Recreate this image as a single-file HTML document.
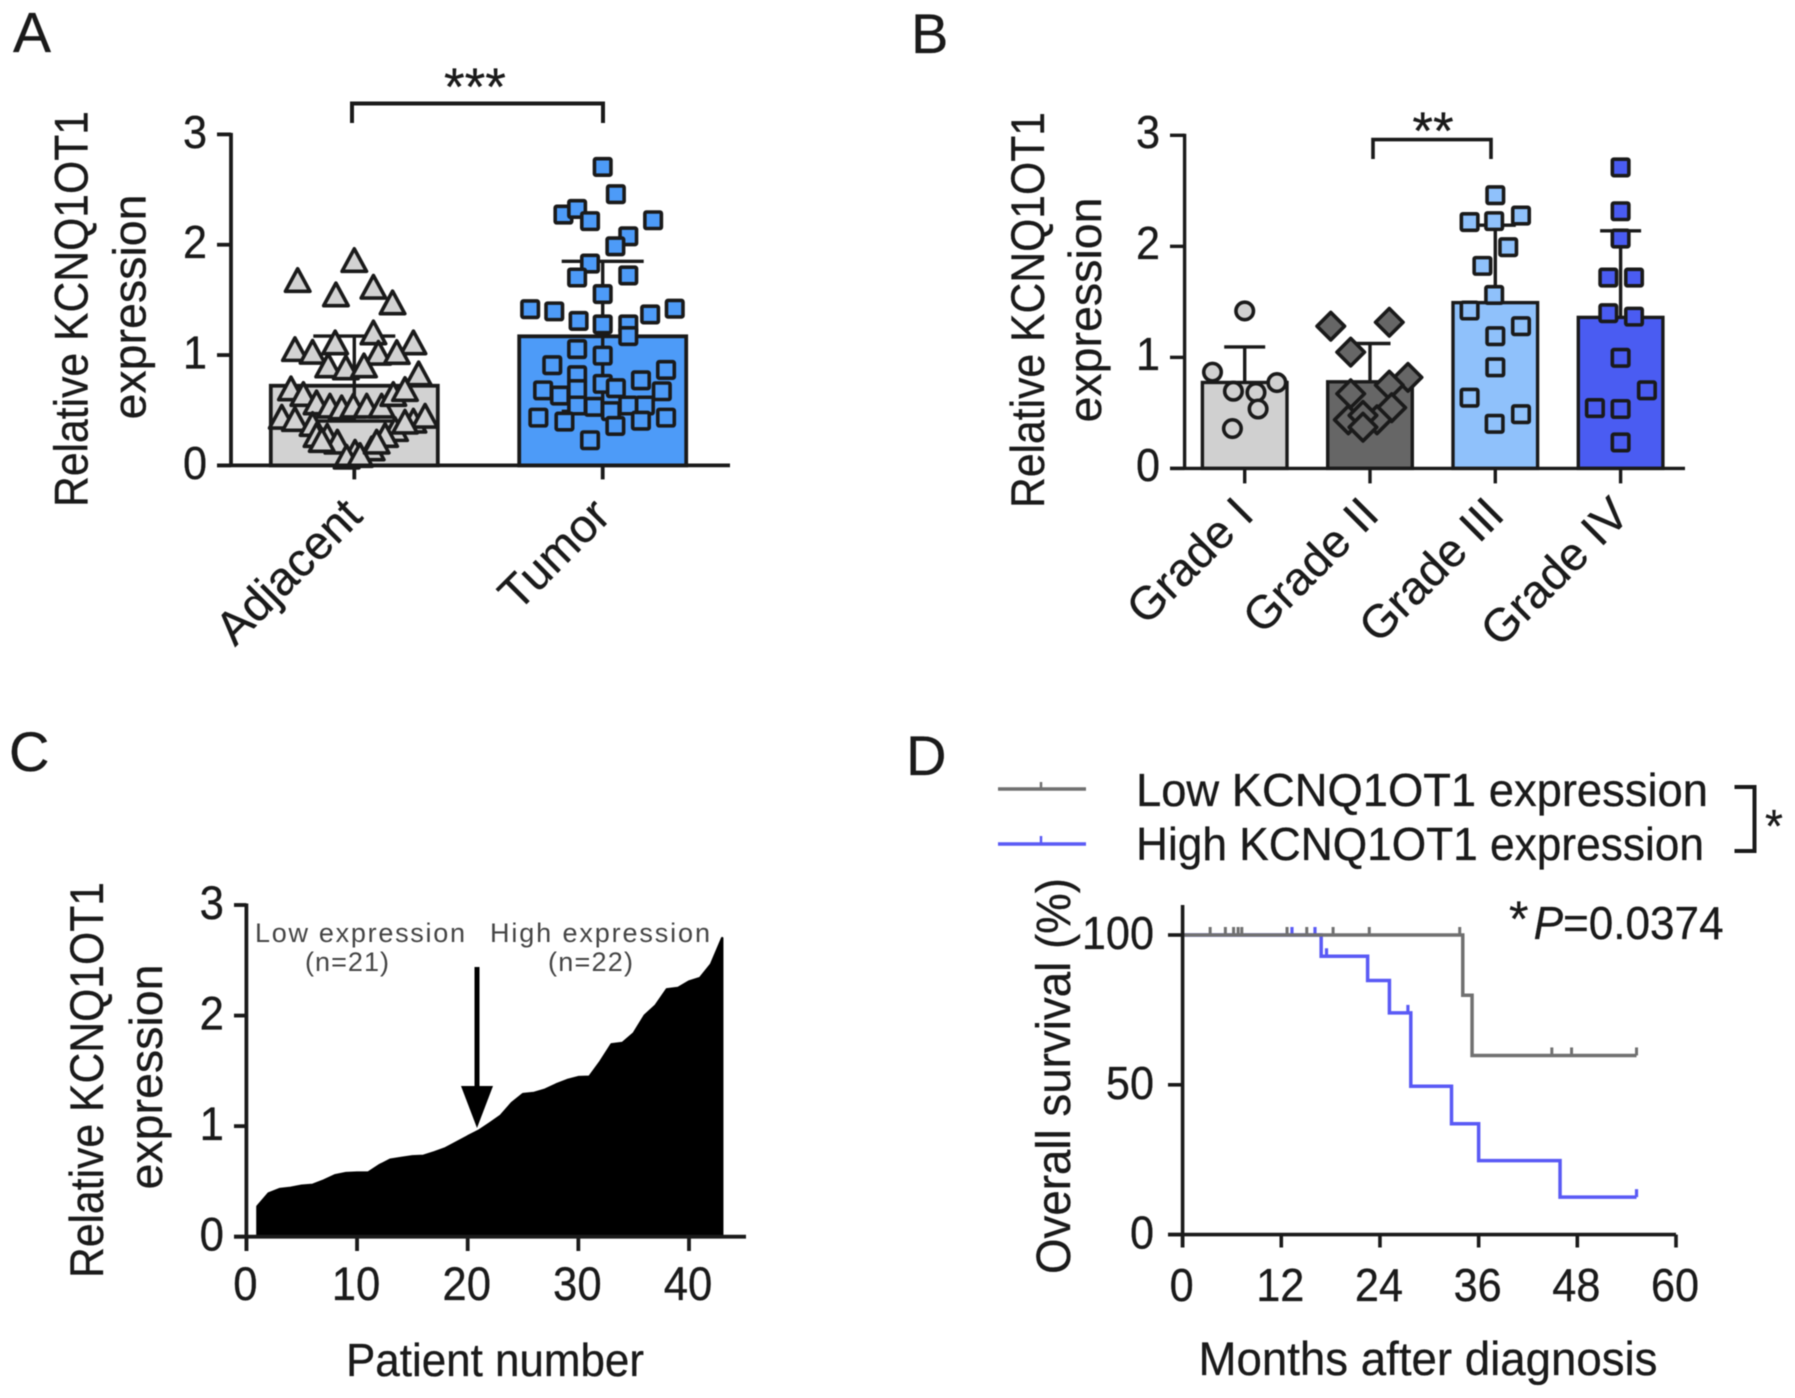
<!DOCTYPE html>
<html lang="en">
<head>
<meta charset="utf-8">
<title>KCNQ1OT1 expression figure</title>
<style>
html,body{margin:0;padding:0;background:#fff;}
svg{display:block;font-family:"Liberation Sans",Arial,sans-serif;fill:#1a1a1a;filter:blur(0.45px);}
text{fill:#1a1a1a;stroke:#1a1a1a;stroke-width:0.3px;}
</style>
</head>
<body>
<svg id="fig" xmlns="http://www.w3.org/2000/svg" width="1795" height="1398" viewBox="0 0 1795 1398">
  <rect width="1795" height="1398" fill="#ffffff"/>

  <text x="13" y="52" font-size="57">A</text>
  <text x="911" y="53" font-size="56">B</text>
  <text x="9" y="771" font-size="56">C</text>
  <text x="906" y="775" font-size="56">D</text>

  <g id="panelA">
    <text transform="translate(87.5,309) rotate(-90)" text-anchor="middle" font-size="47" textLength="396" lengthAdjust="spacingAndGlyphs">Relative KCNQ1OT1</text>
    <text transform="translate(145.5,307) rotate(-90)" text-anchor="middle" font-size="46.5">expression</text>
    <path d="M352 123V103.5H603V123" fill="none" stroke="#1a1a1a" stroke-width="4"/>
    <text x="475" y="105" text-anchor="middle" font-size="53">***</text>
  </g>

  <g id="panelB">
    <text transform="translate(1044,310) rotate(-90)" text-anchor="middle" font-size="47" textLength="396" lengthAdjust="spacingAndGlyphs">Relative KCNQ1OT1</text>
    <text transform="translate(1101,310) rotate(-90)" text-anchor="middle" font-size="46.5">expression</text>
    <path d="M1373 159V139.6H1491V159" fill="none" stroke="#1a1a1a" stroke-width="3.6"/>
    <text x="1433" y="149" text-anchor="middle" font-size="53">**</text>
  </g>

  <g id="panelC">
    <text transform="translate(103,1080) rotate(-90)" text-anchor="middle" font-size="47" textLength="396" lengthAdjust="spacingAndGlyphs">Relative KCNQ1OT1</text>
    <text transform="translate(162,1077) rotate(-90)" text-anchor="middle" font-size="46.5">expression</text>
    <text x="495" y="1376" text-anchor="middle" font-size="46" textLength="298" lengthAdjust="spacingAndGlyphs">Patient number</text>
    <text x="255" y="942" font-size="27" textLength="210" lengthAdjust="spacing" style="fill:#444;stroke:none">Low expression</text>
    <text x="305" y="971" font-size="27" textLength="84" lengthAdjust="spacing" style="fill:#444;stroke:none">(n=21)</text>
    <text x="490" y="942" font-size="27" textLength="220" lengthAdjust="spacing" style="fill:#444;stroke:none">High expression</text>
    <text x="548" y="971" font-size="27" textLength="85" lengthAdjust="spacing" style="fill:#444;stroke:none">(n=22)</text>
  </g>

  <g id="panelD">
    <text transform="translate(1070,1076) rotate(-90)" text-anchor="middle" font-size="48" textLength="396" lengthAdjust="spacingAndGlyphs">Overall survival (%)</text>
    <text x="1428" y="1375" text-anchor="middle" font-size="47.5" textLength="459" lengthAdjust="spacingAndGlyphs">Months after diagnosis</text>
    <line x1="998" y1="789" x2="1086" y2="789" stroke="#707070" stroke-width="3.5"/>
    <line x1="1041" y1="782" x2="1041" y2="789" stroke="#707070" stroke-width="2.5"/>
    <line x1="998" y1="844" x2="1086" y2="844" stroke="#5a5af5" stroke-width="3.5"/>
    <line x1="1041" y1="836" x2="1041" y2="844" stroke="#5a5af5" stroke-width="2.5"/>
    <text x="1136" y="806" font-size="46" textLength="572" lengthAdjust="spacingAndGlyphs">Low KCNQ1OT1 expression</text>
    <text x="1136" y="860" font-size="46" textLength="568" lengthAdjust="spacingAndGlyphs">High KCNQ1OT1 expression</text>
    <path d="M1734.5 787H1754.5V851H1734.5" fill="none" stroke="#1a1a1a" stroke-width="4"/>
    <text x="1765" y="842" font-size="46">*</text>
    <text x="1509" y="936" font-size="50">*</text>
    <text x="1533.6" y="939" font-size="46" textLength="190" lengthAdjust="spacingAndGlyphs"><tspan font-style="italic">P</tspan>=0.0374</text>
  </g>
</svg>
<script>
// ---------- Panel A data ----------
const catA = ['Adjacent', 'Tumor'];
const meanA = [0.722, 1.17];
const sdUpA = [0.45, 0.68];
const sdDownA = [0.32, 0.68];
const ticksA = [0, 1, 2, 3];
const adjacentValues = [1.861,1.680,1.550,1.619,1.477,1.205,1.115,1.054,1.030,1.115,1.021,1.027,0.906,0.888,0.906,0.834,0.698,0.647,0.571,0.541,0.526,0.541,0.541,0.541,0.647,0.692,0.441,0.420,0.375,0.405,0.450,0.329,0.396,0.269,0.215,0.154,0.275,0.275,0.124,0.079,0.094,0.215,0.230];
const adjacentJitter = [0,-0.228,-0.074,0.077,0.154,0.077,0.238,-0.239,-0.168,-0.077,0.097,0.171,-0.105,-0.034,0.039,0.259,-0.255,-0.205,-0.152,-0.098,-0.051,-0.004,0.05,0.11,0.157,0.204,-0.292,-0.239,-0.168,0.238,0.285,0.164,0.204,-0.109,-0.068,0.07,0.124,-0.152,0.003,-0.031,0.023,0.09,-0.131];
const tumorValues = [2.705,2.458,2.273,2.324,2.214,2.222,2.076,1.986,1.829,1.703,1.722,1.553,1.416,1.396,1.309,1.278,1.278,1.368,1.420,1.172,1.054,0.995,0.908,0.865,0.818,0.739,0.771,0.700,0.680,0.633,0.692,0.672,0.543,0.531,0.492,0.543,0.543,0.433,0.397,0.358,0.405,0.433,0.228];
const tumorJitter = [0,0.053,-0.158,-0.103,-0.051,0.203,0.103,0.051,-0.051,-0.103,0.103,0,-0.292,-0.195,-0.097,0,0.103,0.191,0.29,0.103,-0.103,0,-0.203,0.255,-0.103,0,0.154,0.053,-0.24,-0.172,-0.103,0.238,-0.103,-0.035,0.033,0.103,0.17,-0.259,-0.154,0.051,0.154,0.255,-0.051];

// ---------- Panel B data ----------
const catB = ['Grade I', 'Grade II', 'Grade III', 'Grade IV'];
const meanB = [0.774, 0.78, 1.493, 1.36];
const sdUpB = [0.32, 0.345, 0.697, 0.78];
const ticksB = [0, 1, 2, 3];
const gradeIValues = [1.418,0.867,0.773,0.695,0.684,0.535,0.359];
const gradeIJitter = [0,-0.257,0.257,-0.09,0.09,0.107,-0.098];
const gradeIIValues = [1.281,1.316,1.047,0.82,0.75,0.672,0.547,0.4375,0.4375,0.477,0.371];
const gradeIIJitter = [-0.313,0.154,-0.154,0.303,0.154,-0.154,0.173,-0.173,0.056,-0.056,-0.056];
const gradeIIIValues = [2.461,2.219,2.227,2.277,1.992,1.824,1.5625,1.422,1.281,1.191,0.91,0.637,0.488,0.402];
const gradeIIIJitter = [0,-0.205,-0.009,0.205,0.103,-0.103,-0.009,-0.205,0.205,0,0,-0.205,0.205,-0.005];
const gradeIVValues = [2.711,2.316,2.07,1.719,1.719,1.398,1.367,0.996,0.703,0.543,0.535,0.234];
const gradeIVJitter = [0,0,0,-0.098,0.107,-0.098,0.107,0,0.21,-0.205,0,0];

// ---------- Panel C data ----------
const expressionByPatient = [0.274,0.39,0.43,0.442,0.461,0.469,0.508,0.555,0.575,0.579,0.579,0.645,0.696,0.712,0.727,0.731,0.763,0.80,0.853,0.907,0.958,1.025,1.095,1.21,1.29,1.30,1.33,1.377,1.416,1.443,1.447,1.584,1.74,1.752,1.838,2.0,2.092,2.237,2.249,2.307,2.339,2.464,2.70];
const ticksCx = [0, 10, 20, 30, 40];
const ticksCy = [0, 1, 2, 3];

// ---------- Panel D data ----------
const lowTimes = [0, 34.07, 35.2, 55.2];
const lowSurvival = [100, 79.9, 59.8, 59.8];
const lowCensor = [3.35,5.2,6.2,6.75,7.2,12.7,15.1,18.3,22.7,33.7,44.9,47.3,55.2];
const highTimes = [0, 16.85, 22.5, 25.15, 27.75, 32.7, 36, 45.9, 55.2];
const highSurvival = [100, 92.9, 84.8, 74, 49.5, 37, 24.7, 12.5, 12.5];
const highCensor = [13.3,16.1,17.5,27.4,55.2];
const ticksDx = [0, 12, 24, 36, 48, 60];
const ticksDy = [0, 50, 100];

// ---------- helpers ----------
const NS = 'http://www.w3.org/2000/svg';
const INK = '#1a1a1a';
function mk(parent, tag, attrs, txt) {
  const el = document.createElementNS(NS, tag);
  for (const k in attrs) el.setAttribute(k, attrs[k]);
  if (txt !== undefined) el.textContent = txt;
  parent.appendChild(el);
  return el;
}
function linear(d0, d1, r0, r1) {
  return v => r0 + (v - d0) * (r1 - r0) / (d1 - d0);
}
function axisLine(parent, x1, y1, x2, y2, w, name) {
  const el = mk(parent, 'line', {x1, y1, x2, y2, stroke: INK, 'stroke-width': w});
  
  
  return el;
}
function tickLabel(parent, x, y, anchor, size, txt, name) {
  const el = mk(parent, 'text', {transform: `translate(${x},${y}) scale(0.93,1)`, 'text-anchor': anchor, 'font-size': size}, txt);
  
  
  return el;
}
function rotatedLabel(parent, x, y, size, txt) {
  const el = mk(parent, 'text', {transform: `translate(${x},${y}) rotate(-45)`, 'text-anchor': 'end', 'font-size': size}, txt);
  
  
  return el;
}
function bar(parent, cx, halfW, y0, y1, fill, w) {
  const el = mk(parent, 'rect', {x: cx - halfW, y: y1, width: 2 * halfW, height: y0 - y1, fill, stroke: INK, 'stroke-width': w});
  
  
  return el;
}
function errorBar(parent, cx, yTop, yBase, capHalf, w) {
  const el = mk(parent, 'path', {d: `M${cx - capHalf} ${yTop}H${cx + capHalf}M${cx} ${yTop}V${yBase}`, fill: 'none', stroke: INK, 'stroke-width': w});
  
  
  return el;
}
function marker(parent, kind, x, y, size, fill) {
  let el;
  if (kind === 'triangle') {
    const h = size * 0.92, w = size;
    el = mk(parent, 'polygon', {points: `${x},${y - h / 2} ${x + w / 2},${y + h / 2} ${x - w / 2},${y + h / 2}`});
  } else if (kind === 'square') {
    el = mk(parent, 'rect', {x: x - size / 2, y: y - size / 2, width: size, height: size, rx: 1.5});
  } else if (kind === 'diamond') {
    el = mk(parent, 'polygon', {points: `${x},${y - size / 2} ${x + size / 2},${y} ${x},${y + size / 2} ${x - size / 2},${y}`});
  } else {
    el = mk(parent, 'circle', {cx: x, cy: y, r: size / 2});
  }
  el.setAttribute('fill', fill);
  el.setAttribute('stroke', INK);
  el.setAttribute('stroke-width', 3.6);
  el.setAttribute('stroke-linejoin', 'round');
  
  
  return el;
}

// ---------- Panel A ----------
(function () {
  const g = document.getElementById('panelA');
  const y = linear(0, 3, 465.4, 134.4);
  const x = linear(0, 1, 354.3, 602.7);
  const halfW = 83.5;
  const fills = ['#d2d2d2', '#4d9bf8'];
  catA.forEach((c, i) => {
    bar(g, x(i), halfW, y(0), y(meanA[i]), fills[i], 3.8);
    errorBar(g, x(i), y(meanA[i] + sdUpA[i]), y(meanA[i]), 41, 3.4);
    errorBar(g, x(i), y(meanA[i] - sdDownA[i]), y(meanA[i]), 41, 3.4);
  });
  adjacentValues.forEach((v, i) => marker(g, 'triangle', x(0 + adjacentJitter[i]), y(v), 24.5, '#d2d2d2'));
  tumorValues.forEach((v, i) => marker(g, 'square', x(1 + tumorJitter[i]), y(v), 16.5, '#4d9bf8'));
  axisLine(g, 231, y(3) - 1.5, 231, y(0), 3.8, 'y-axis-a');
  axisLine(g, 217, y(0), 730, y(0), 3.8, 'x-axis-a');
  ticksA.forEach(t => {
    axisLine(g, 217, y(t), 231, y(t), 3.8, 'y-tick-a');
    tickLabel(g, 207, y(t) + 13.5, 'end', 46.5, String(t), 'y-tick-label-a');
  });
  catA.forEach((c, i) => {
    axisLine(g, x(i), y(0), x(i), y(0) + 14, 3.8, 'x-tick-a');
    rotatedLabel(g, x(i) + 10, 518, 47, c);
  });
})();

// ---------- Panel B ----------
(function () {
  const g = document.getElementById('panelB');
  const y = linear(0, 3, 468.4, 135.3);
  const x = linear(0, 1, 1244.7, 1370);
  const halfW = 42.3;
  const fills = ['#d0d0d0', '#666666', '#8fc1fb', '#4a5cf2'];
  catB.forEach((c, i) => {
    bar(g, x(i), halfW, y(0), y(meanB[i]), fills[i], 3.4);
    errorBar(g, x(i), y(meanB[i] + sdUpB[i]), y(meanB[i]), 20.5, 3.4);
  });
  gradeIValues.forEach((v, i) => marker(g, 'circle', x(0 + gradeIJitter[i]), y(v), 17.5, fills[0]));
  gradeIIValues.forEach((v, i) => marker(g, 'diamond', x(1 + gradeIIJitter[i]), y(v), 27.5, fills[1]));
  gradeIIIValues.forEach((v, i) => marker(g, 'square', x(2 + gradeIIIJitter[i]), y(v), 16.5, fills[2]));
  gradeIVValues.forEach((v, i) => marker(g, 'square', x(3 + gradeIVJitter[i]), y(v), 16.5, fills[3]));
  axisLine(g, 1184.6, y(3) - 1.5, 1184.6, y(0), 3.4, 'y-axis-b');
  axisLine(g, 1170, y(0), 1685, y(0), 3.4, 'x-axis-b');
  ticksB.forEach(t => {
    axisLine(g, 1170, y(t), 1184.6, y(t), 3.4, 'y-tick-b');
    tickLabel(g, 1160, y(t) + 12.5, 'end', 46.5, String(t), 'y-tick-label-b');
  });
  catB.forEach((c, i) => {
    axisLine(g, x(i), y(0), x(i), y(0) + 15, 3.4, 'x-tick-b');
    rotatedLabel(g, x(i) + 11, 517, 46.5, c);
  });
})();

// ---------- Panel C ----------
(function () {
  const g = document.getElementById('panelC');
  const y = linear(0, 3, 1236.7, 905);
  const x = linear(0, 40, 246.4, 689);
  let d = `M${x(1)} ${y(0)}`;
  expressionByPatient.forEach((v, i) => { d += `L${x(i + 1)} ${y(v)}`; });
  d += `L${x(expressionByPatient.length)} ${y(0)}Z`;
  const area = mk(g, 'path', {d, fill: '#000000', stroke: '#000000', 'stroke-width': 2.5, 'stroke-linejoin': 'round'});
  
  
  axisLine(g, 246.4, y(3) - 1.5, 246.4, 1251, 3.8, 'y-axis-c');
  axisLine(g, 234, y(0), 746, y(0), 3.8, 'x-axis-c');
  ticksCy.forEach(t => {
    axisLine(g, 234, y(t), 246.4, y(t), 3.8, 'y-tick-c');
    tickLabel(g, 224, y(t) + 14, 'end', 47, String(t), 'y-tick-label-c');
  });
  ticksCx.forEach(t => {
    axisLine(g, x(t), y(0), x(t), 1251, 3.8, 'x-tick-c');
    tickLabel(g, x(t) - 1, 1300, 'middle', 47, String(t), 'x-tick-label-c');
  });
  const shaft = mk(g, 'line', {x1: 477, y1: 967, x2: 477, y2: 1090, stroke: '#000000', 'stroke-width': 5});
  
  
  const head = mk(g, 'polygon', {points: '461,1086 493,1086 477,1128', fill: '#000000'});
  
  
})();

// ---------- Panel D ----------
(function () {
  const g = document.getElementById('panelD');
  const y = linear(0, 100, 1234.6, 935);
  const x = linear(0, 60, 1182.6, 1676);
  function stepPath(times, surv) {
    let d = `M${x(times[0])} ${y(surv[0])}`;
    for (let i = 1; i < times.length; i++) d += `H${x(times[i])}V${y(surv[i])}`;
    return d;
  }
  function survivalAt(times, surv, t) {
    let s = surv[0];
    for (let i = 0; i < times.length; i++) if (times[i] <= t && surv[i] !== undefined) s = surv[i];
    return s;
  }
  const blue = mk(g, 'path', {d: stepPath(highTimes, highSurvival), fill: 'none', stroke: '#5a5af5', 'stroke-width': 3.5});
  
  
  highCensor.forEach(t => {
    const s = survivalAt(highTimes, highSurvival, t);
    const m = mk(g, 'line', {x1: x(t), x2: x(t), y1: y(s), y2: y(s) - 8, stroke: '#5a5af5', 'stroke-width': 3.2});
    
    
  });
  const gray = mk(g, 'path', {d: stepPath(lowTimes, lowSurvival), fill: 'none', stroke: '#707070', 'stroke-width': 3.5});
  
  
  lowCensor.forEach(t => {
    const s = survivalAt(lowTimes, lowSurvival, t);
    const m = mk(g, 'line', {x1: x(t), x2: x(t), y1: y(s), y2: y(s) - 8, stroke: '#707070', 'stroke-width': 3});
    
    
  });
  axisLine(g, 1182.6, 905, 1182.6, 1247.5, 3.6, 'y-axis-d');
  axisLine(g, 1168, y(0), 1676, y(0), 3.6, 'x-axis-d');
  ticksDy.forEach(t => {
    axisLine(g, 1168, y(t), 1182.6, y(t), 3.6, 'y-tick-d');
    tickLabel(g, 1154, y(t) + 14, 'end', 46.5, String(t), 'y-tick-label-d');
  });
  ticksDx.forEach(t => {
    axisLine(g, x(t), y(0), x(t), 1247.5, 3.6, 'x-tick-d');
    tickLabel(g, x(t) - 1, 1301, 'middle', 46.5, String(t), 'x-tick-label-d');
  });
})();
</script>
</body>
</html>
